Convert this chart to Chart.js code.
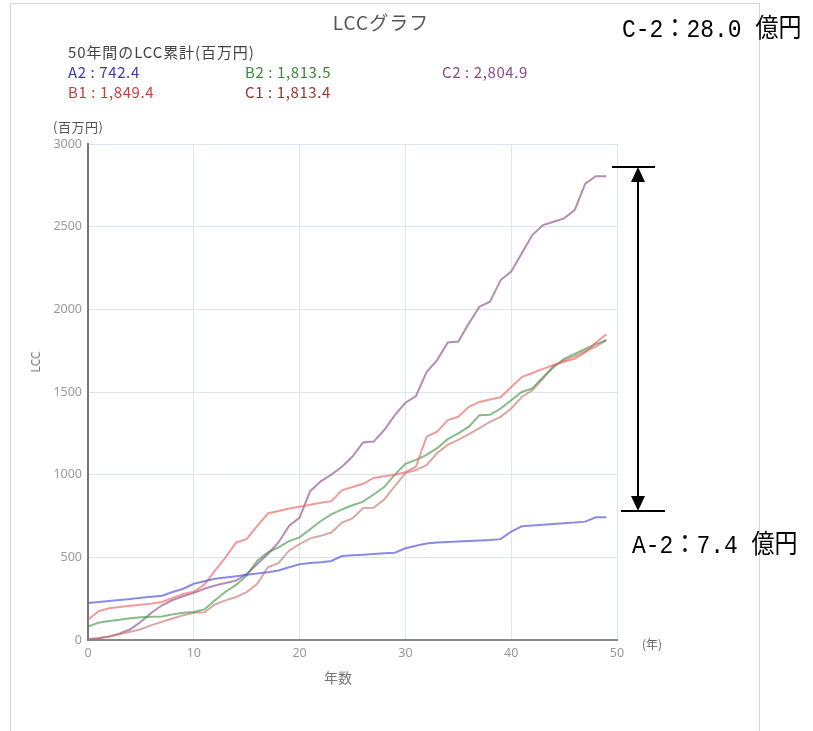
<!DOCTYPE html>
<html>
<head>
<meta charset="utf-8">
<script src="https://cdn.jsdelivr.net/npm/chart.js@4/dist/chart.umd.min.js"></script>
<style>
body { margin: 0; background: #fff; }
#wrap { position: relative; width: 813px; height: 731px; overflow: hidden; font-family: "Noto Sans CJK JP", "Noto Sans", sans-serif; }
#frame { position: absolute; left: 10px; top: 3px; width: 750px; height: 760px; border: 1px solid #d6d6d6; box-sizing: border-box; }
#lcc { position: absolute; left: 0; top: 0; }
.t { position: absolute; white-space: nowrap; line-height: 1; }
.leg { font-size: 15px; letter-spacing: 0.6px; }
.big { font-family: "Liberation Mono", "Noto Sans CJK JP", monospace; font-size: 23px; color: #000; transform: scaleY(1.15); transform-origin: left center; }
</style>
</head>
<body>
<div id="wrap">
  <div id="frame"></div>
  <canvas id="lcc" width="813" height="731"></canvas>

  <div class="t" style="left:381px;top:12px;transform:translateX(-50%);font-size:19px;letter-spacing:1px;color:#555;">LCCグラフ</div>
  <div class="t leg" style="left:68px;top:44px;color:#444;letter-spacing:0.9px;">50年間のLCC累計(百万円)</div>
  <div class="t leg" style="left:68px;top:64px;color:#3b3bb0;">A2 : 742.4</div>
  <div class="t leg" style="left:245px;top:64px;color:#3a8a3a;">B2 : 1,813.5</div>
  <div class="t leg" style="left:442px;top:64px;color:#8a4a8a;">C2 : 2,804.9</div>
  <div class="t leg" style="left:68px;top:84px;color:#cc3a3a;">B1 : 1,849.4</div>
  <div class="t leg" style="left:245px;top:84px;color:#9a3434;">C1 : 1,813.4</div>
  <div class="t" style="left:53px;top:120px;font-size:13px;letter-spacing:0.5px;color:#555;">(百万円)</div>
  <div class="t" style="left:35px;top:362px;transform:translate(-50%,-50%) rotate(-90deg);font-size:12px;color:#777;">LCC</div>
  <div class="t" style="left:338px;top:670px;transform:translateX(-50%);font-size:14px;color:#777;">年数</div>
  <div class="t" style="left:652px;top:638px;transform:translateX(-50%);font-size:12px;color:#666;">(年)</div>

  <div class="t big" style="left:622px;top:19px;">C-2：28.0 億円</div>
  <div class="t big" style="left:632px;top:535px;">A-2：7.4 億円</div>
</div>

<script>
// Data (year, cumulative LCC in million yen)
const years = [0,1,2,3,4,5,6,7,8,9,10,11,12,13,14,15,16,17,18,19,20,21,22,23,24,25,26,27,28,29,30,31,32,33,34,35,36,37,38,39,40,41,42,43,44,45,46,47,48,49];

const a2 = [224,230,236,242,248,255,262,268,290,310,340,355,370,378,386,395,402,410,420,440,458,465,470,478,508,512,516,520,524,528,555,570,583,590,593,596,599,602,605,610,655,688,692,697,702,706,710,716,742,742.4];
const b1 = [121,175,192,200,207,213,220,230,255,278,292,335,420,500,590,610,690,765,780,795,806,818,830,840,905,925,945,980,990,1000,1015,1048,1230,1260,1330,1350,1410,1440,1455,1468,1530,1590,1615,1640,1663,1683,1700,1740,1800,1849.4];
const b2 = [81,105,115,122,132,138,140,142,155,165,170,185,240,292,333,390,480,530,560,598,621,670,720,760,790,815,837,880,925,1000,1065,1089,1120,1160,1215,1250,1290,1360,1362,1400,1450,1500,1522,1590,1650,1700,1730,1760,1790,1813.5];
const c1 = [5,10,20,35,50,65,90,110,130,150,165,168,215,240,260,290,340,440,465,540,580,615,630,650,710,735,798,800,850,930,1010,1028,1058,1131,1180,1210,1245,1282,1320,1350,1400,1470,1510,1580,1660,1690,1715,1745,1775,1813.4];
const c2 = [5,10,22,40,65,110,165,210,242,265,285,310,330,345,360,400,460,520,590,690,740,900,960,1000,1048,1110,1195,1200,1270,1360,1435,1476,1620,1693,1800,1805,1915,2016,2046,2177,2228,2339,2449,2510,2530,2550,2600,2760,2805,2804.9];

const seriesNames = ['A2', 'B1', 'B2', 'C1', 'C2'];
const seriesValues = [a2, b1, b2, c1, c2];
const seriesColors = [
  'rgba(90, 90, 220, 0.7)',
  'rgba(235, 100, 100, 0.65)',
  'rgba(70, 150, 70, 0.65)',
  'rgba(200, 120, 110, 0.65)',
  'rgba(140, 80, 140, 0.65)'
];

// Arrow annotation between C-2 and A-2
const arrowPlugin = {
  id: 'arrow',
  afterDraw(chart) {
    const ctx = chart.ctx;
    const x = 638, top = 167, bottom = 511;
    ctx.save();
    ctx.strokeStyle = '#000';
    ctx.fillStyle = '#000';
    ctx.lineWidth = 2;
    ctx.beginPath();
    ctx.moveTo(612, top); ctx.lineTo(655, top);
    ctx.moveTo(621, bottom); ctx.lineTo(665, bottom);
    ctx.moveTo(x, top + 12); ctx.lineTo(x, bottom - 12);
    ctx.stroke();
    ctx.beginPath();
    ctx.moveTo(x, top); ctx.lineTo(x - 7, top + 15); ctx.lineTo(x + 7, top + 15); ctx.closePath();
    ctx.moveTo(x, bottom); ctx.lineTo(x - 7, bottom - 15); ctx.lineTo(x + 7, bottom - 15); ctx.closePath();
    ctx.fill();
    ctx.restore();
  }
};

const ctx = document.getElementById('lcc').getContext('2d');
new Chart(ctx, {
  type: 'line',
  data: {
    datasets: seriesNames.map((name, i) => ({
      label: name,
      data: seriesValues[i].map((v, j) => ({ x: years[j], y: v })),
      borderColor: seriesColors[i],
      borderWidth: 2,
      pointRadius: 0,
      fill: false,
      tension: 0
    }))
  },
  options: {
    responsive: false,
    animation: false,
    layout: { padding: { top: 144, right: 196, bottom: 0, left: 0 } },
    plugins: { legend: { display: false }, tooltip: { enabled: false } },
    scales: {
      x: {
        type: 'linear',
        min: 0, max: 50,
        ticks: { stepSize: 10, color: '#999', padding: 6, font: { size: 12.5, family: 'Noto Sans' }, callback: v => String(v) },
        grid: { color: '#dbe7ef', drawTicks: false },
        border: { color: '#888', width: 2 },
        afterFit: s => { s.height = 91; }
      },
      y: {
        min: 0, max: 3000,
        ticks: { stepSize: 500, color: '#999', padding: 6, font: { size: 12.5, family: 'Noto Sans' }, callback: v => String(v) },
        grid: { color: '#dbe7ef', drawTicks: false },
        border: { color: '#777', width: 2 },
        afterFit: s => { s.width = 88; }
      }
    }
  },
  plugins: [arrowPlugin]
});
</script>
</body>
</html>
